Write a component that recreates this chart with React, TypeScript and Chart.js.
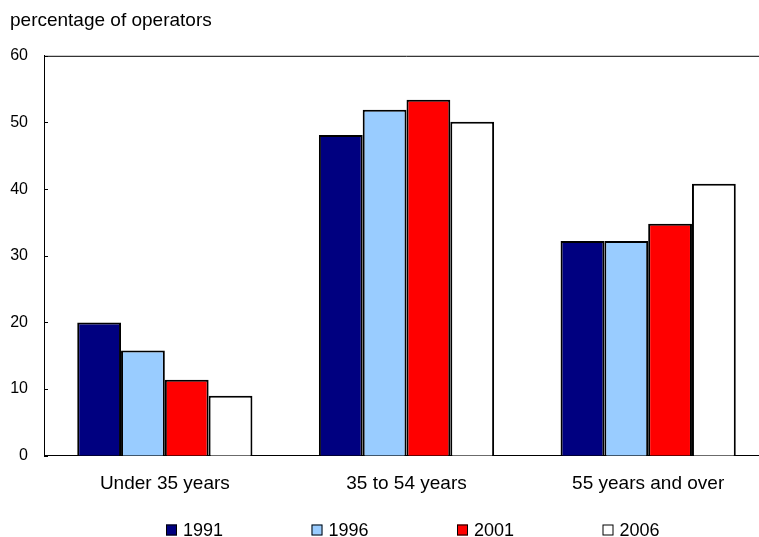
import React, { useEffect, useRef } from "react";
import { Chart, registerables } from "chart.js";

Chart.register(...registerables);

const categories = ["Under 35 years", "35 to 54 years", "55 years and over"];
const seriesLabels = ["1991", "1996", "2001", "2006"];
const values1991 = [20.0, 48.1, 32.2];
const values1996 = [15.8, 51.9, 32.2];
const values2001 = [11.4, 53.4, 34.8];
const values2006 = [9.0, 50.1, 40.8];
const seriesValues = [values1991, values1996, values2001, values2006];
const seriesColors = ["#000080", "#99ccff", "#ff0000", "#ffffff"];
const yMin = 0;
const yMax = 60;
const yStep = 10;
const yAxisTitle = "percentage of operators";

const FONT = "'Liberation Sans', Arial, sans-serif";
const CANVAS_W = 780;
const CANVAS_H = 537;

const framePlugin = {
  id: "frameAndTicks",
  afterDraw(chart: any) {
    const { ctx, chartArea, scales } = chart;
    ctx.save();
    ctx.strokeStyle = "#000";
    ctx.lineWidth = 1;
    ctx.beginPath();
    ctx.moveTo(chartArea.left, chartArea.top + 0.5);
    ctx.lineTo(chartArea.right, chartArea.top + 0.5);
    ctx.lineTo(chartArea.right, chartArea.bottom);
    ctx.stroke();
    const ys = scales.y;
    ys.ticks.forEach((t: any) => {
      const py = Math.round(ys.getPixelForValue(t.value)) + 0.5;
      ctx.beginPath();
      ctx.moveTo(chartArea.left, py);
      ctx.lineTo(chartArea.left + 4, py);
      ctx.stroke();
    });
    ctx.restore();
  },
};

const legendPlugin = {
  id: "customLegend",
  afterDraw(chart: any) {
    const { ctx } = chart;
    const startX = 166;
    const step = 145.5;
    const box = 11;
    const cy = 530;
    ctx.save();
    ctx.font = `18px ${FONT}`;
    ctx.textBaseline = "middle";
    ctx.textAlign = "left";
    chart.data.datasets.forEach((ds: any, i: number) => {
      const x = startX + i * step;
      ctx.fillStyle = ds.backgroundColor;
      ctx.fillRect(x, cy - box / 2, box, box);
      ctx.strokeStyle = "#000";
      ctx.lineWidth = 1;
      ctx.strokeRect(x + 0.5, cy - box / 2 + 0.5, box - 1, box - 1);
      ctx.fillStyle = "#000";
      ctx.fillText(ds.label, x + box + 6, cy + 1);
    });
    ctx.restore();
  },
};

export default function App() {
  const canvasRef = useRef<HTMLCanvasElement | null>(null);

  useEffect(() => {
    if (!canvasRef.current) return;
    const chart = new Chart(canvasRef.current, {
      type: "bar",
      data: {
        labels: categories,
        datasets: seriesLabels.map((label, i) => ({
          label,
          data: seriesValues[i],
          backgroundColor: seriesColors[i],
          borderColor: "#000",
          borderWidth: 2,
          borderSkipped: "bottom",
          categoryPercentage: 0.725,
          barPercentage: 1.0,
        })),
      },
      options: {
        responsive: false,
        animation: false,
        devicePixelRatio: 1,
        layout: {
          padding: { left: 10, top: 9, right: CANVAS_W - 769, bottom: 24.5 },
        },
        plugins: {
          legend: { display: false },
          tooltip: { enabled: false },
          title: {
            display: true,
            text: yAxisTitle,
            align: "start",
            color: "#000",
            font: { family: FONT, size: 19, weight: "normal" },
            padding: { top: 0, bottom: 24 },
          },
        },
        scales: {
          x: {
            grid: { display: false, drawTicks: false },
            border: { display: true, color: "#000", width: 1 },
            ticks: {
              color: "#000",
              font: { family: FONT, size: 19 },
              padding: 17,
              maxRotation: 0,
            },
          },
          y: {
            min: yMin,
            max: yMax,
            grid: { display: false, drawTicks: false },
            border: { display: true, color: "#000", width: 1 },
            ticks: {
              stepSize: yStep,
              color: "#000",
              font: { family: FONT, size: 16 },
              padding: 16,
            },
            afterFit(scale: any) {
              scale.width = 34;
            },
          },
        },
      },
      plugins: [framePlugin, legendPlugin],
    });
    return () => chart.destroy();
  }, []);

  return (
    <div
      style={{
        position: "fixed",
        left: 0,
        top: 0,
        width: 759,
        height: 537,
        overflow: "hidden",
        background: "#fff",
      }}
    >
      <canvas
        ref={canvasRef}
        width={CANVAS_W}
        height={CANVAS_H}
        style={{ display: "block", width: CANVAS_W, height: CANVAS_H }}
      />
    </div>
  );
}
